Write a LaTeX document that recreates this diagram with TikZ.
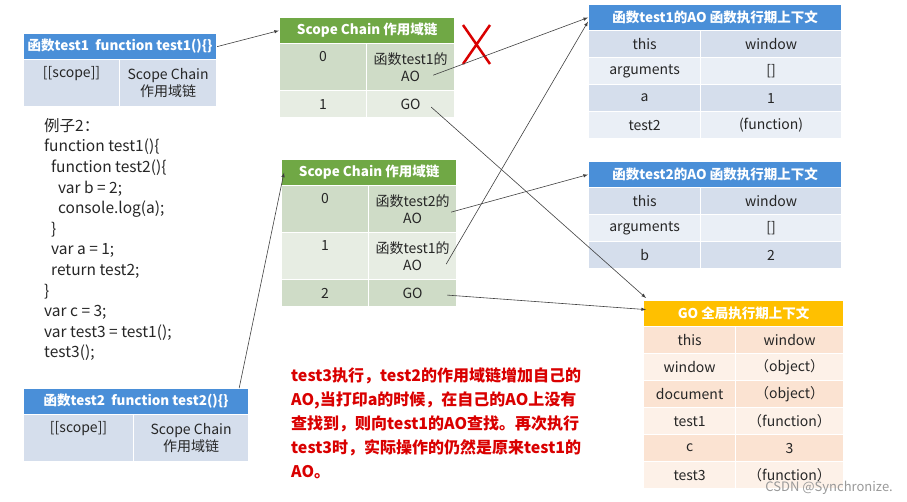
\documentclass[tikz,border=0pt]{standalone}
\usepackage{fontspec}
\setmainfont{Noto Sans CJK SC}
\begin{document}
\begin{tikzpicture}[x=1pt,y=-1pt,
 cell/.style={draw=white,line width=1.2pt,inner sep=0pt,anchor=north west,align=center,font=\fontsize{14}{17}\selectfont,text=black!85},
 hdr/.style={cell,text=white,font=\bfseries\fontsize{13.5}{14}\selectfont},
 arr/.style={-latex,line width=0.6pt,black!75}]
\useasboundingbox (0,0) rectangle (907,502);
\definecolor{bh}{HTML}{4A8FD8}\definecolor{bl}{HTML}{D5DEEC}
\definecolor{gh}{HTML}{70A845}\definecolor{gl}{HTML}{CFDCC7}\definecolor{gl2}{HTML}{E7EDE3}
\definecolor{oh}{HTML}{FFC000}\definecolor{ol}{HTML}{FBE3D2}\definecolor{ol2}{HTML}{FDF1E8}
\definecolor{al}{HTML}{D5DEEC}\definecolor{al2}{HTML}{EAEFF6}
% test1 table
\node[hdr,fill=bh,minimum width=193,minimum height=26] (t1h) at (23,33) {函数test1\ \ function test1()\{\}};
\node[cell,fill=bl,minimum width=96,minimum height=47] (t1a) at (23,59) {[[scope]]\\\strut};
\node[cell,fill=bl,minimum width=97,minimum height=47] (t1b) at (119,59) {Scope Chain\\作用域链};
% test2 table
\node[hdr,fill=bh,minimum width=225,minimum height=26] (t2h) at (23,388) {函数test2\ \ function test2()\{\}};
\node[cell,fill=bl,minimum width=110,minimum height=47] (t2a) at (23,414) {[[scope]]\\\strut};
\node[cell,fill=bl,minimum width=115,minimum height=47] (t2b) at (133,414) {Scope Chain\\作用域链};
% code
\node[anchor=north west,align=left,inner sep=0pt,font=\fontsize{15.5}{20.6}\selectfont,text=black!85] (code) at (44,118) {例子2：\\function test1()\{\\\ \ function test2()\{\\\ \ \ \ var b = 2;\\\ \ \ \ console.log(a);\\\ \ \}\\\ \ var a = 1;\\\ \ return test2;\\\}\\var c = 3;\\var test3 = test1();\\test3();};
% scope chain 1
\node[hdr,fill=gh,minimum width=175,minimum height=26] (s1h) at (279,17) {Scope Chain 作用域链};
\node[cell,fill=gl,minimum width=87,minimum height=47] (s1r0a) at (279,43) {0\\\strut};
\node[cell,fill=gl,minimum width=88,minimum height=47] (s1r0b) at (366,43) {函数test1的\\AO};
\node[cell,fill=gl2,minimum width=87,minimum height=27] (s1r1a) at (279,90) {1};
\node[cell,fill=gl2,minimum width=88,minimum height=27] (s1r1b) at (366,90) {GO};
% red X
\draw[red!85!black,line width=2.5pt] (463,25) -- (490,64) (490,25) -- (463,64);
% scope chain 2
\node[hdr,fill=gh,minimum width=175,minimum height=26] (s2h) at (281,159) {Scope Chain 作用域链};
\node[cell,fill=gl,minimum width=87,minimum height=47] (s2r0a) at (281,185) {0\\\strut};
\node[cell,fill=gl,minimum width=88,minimum height=47] (s2r0b) at (368,185) {函数test2的\\AO};
\node[cell,fill=gl2,minimum width=87,minimum height=47] (s2r1a) at (281,232) {1\\\strut};
\node[cell,fill=gl2,minimum width=88,minimum height=47] (s2r1b) at (368,232) {函数test1的\\AO};
\node[cell,fill=gl,minimum width=87,minimum height=27] (s2r2a) at (281,279) {2};
\node[cell,fill=gl,minimum width=88,minimum height=27] (s2r2b) at (368,279) {GO};
% AO test1
\node[hdr,fill=bh,minimum width=253,minimum height=26] (a1h) at (588,4) {函数test1的AO 函数执行期上下文};
\foreach \i/\k/\v/\c in {0/this/window/al,1/arguments/[]/al2,2/a/1/al,3/test2/(function)/al2}{
 \node[cell,fill=\c,minimum width=112,minimum height=27] (a1k\i) at (588,30+27*\i) {\k};
 \node[cell,fill=\c,minimum width=141,minimum height=27] (a1v\i) at (700,30+27*\i) {\v};}
% AO test2
\node[hdr,fill=bh,minimum width=253,minimum height=26] (a2h) at (588,161) {函数test2的AO 函数执行期上下文};
\foreach \i/\k/\v/\c in {0/this/window/al,1/arguments/[]/al2,2/b/2/al}{
 \node[cell,fill=\c,minimum width=112,minimum height=27] (a2k\i) at (588,187+27*\i) {\k};
 \node[cell,fill=\c,minimum width=141,minimum height=27] (a2v\i) at (700,187+27*\i) {\v};}
% GO
\node[hdr,fill=oh,minimum width=200,minimum height=26] (goh) at (643,300) {GO 全局执行期上下文};
\foreach \i/\k/\v/\c in {0/this/window/ol,1/window/（object）/ol2,2/document/（object）/ol,3/test1/（function）/ol2,4/c/3/ol,5/test3/（function）/ol2}{
 \node[cell,fill=\c,minimum width=92,minimum height=27] (gk\i) at (643,326+27*\i) {\k};
 \node[cell,fill=\c,minimum width=108,minimum height=27] (gv\i) at (735,326+27*\i) {\v};}
% red note
\node[anchor=north west,align=left,inner sep=0pt,text=red!85!black,font=\bfseries\fontsize{16}{24}\selectfont] (note) at (291,368) {test3执行，test2的作用域链增加自己的\\AO,当打印a的时候，在自己的AO上没有\\查找到，则向test1的AO查找。再次执行\\test3时，实际操作的仍然是原来test1的\\AO。};
\node[anchor=south east,inner sep=0pt,text=black!40,font=\fontsize{13}{14}\selectfont] (wm) at (893,495) {CSDN @Synchronize.};
% arrows
\draw[arr] (t1h.east) -- (s1h.west);
\draw[arr] (s1r0b.south east) ++(-22,-16) coordinate (c1) (c1) -- (a1h.west);
\draw[arr] (s1r1b.east) ++(-24,3) coordinate (c2) (c2) -- ([xshift=3pt,yshift=2pt]goh.north west);
\draw[arr] ([xshift=-10pt]t2h.north east) -- ([xshift=3pt]s2h.west);
\draw[arr] (s2r0b.east) ++(-6,3) coordinate (c4) (c4) -- (a2h.west);
\draw[arr] (s2r1b.east) ++(-11,8) coordinate (c5) (c5) -- ([yshift=-4pt]a1h.west);
\draw[arr] (s2r2b.east) ++(-10,2) coordinate (c6) (c6) -- ([xshift=3pt,yshift=4pt]goh.west);
\end{tikzpicture}
\end{document}
